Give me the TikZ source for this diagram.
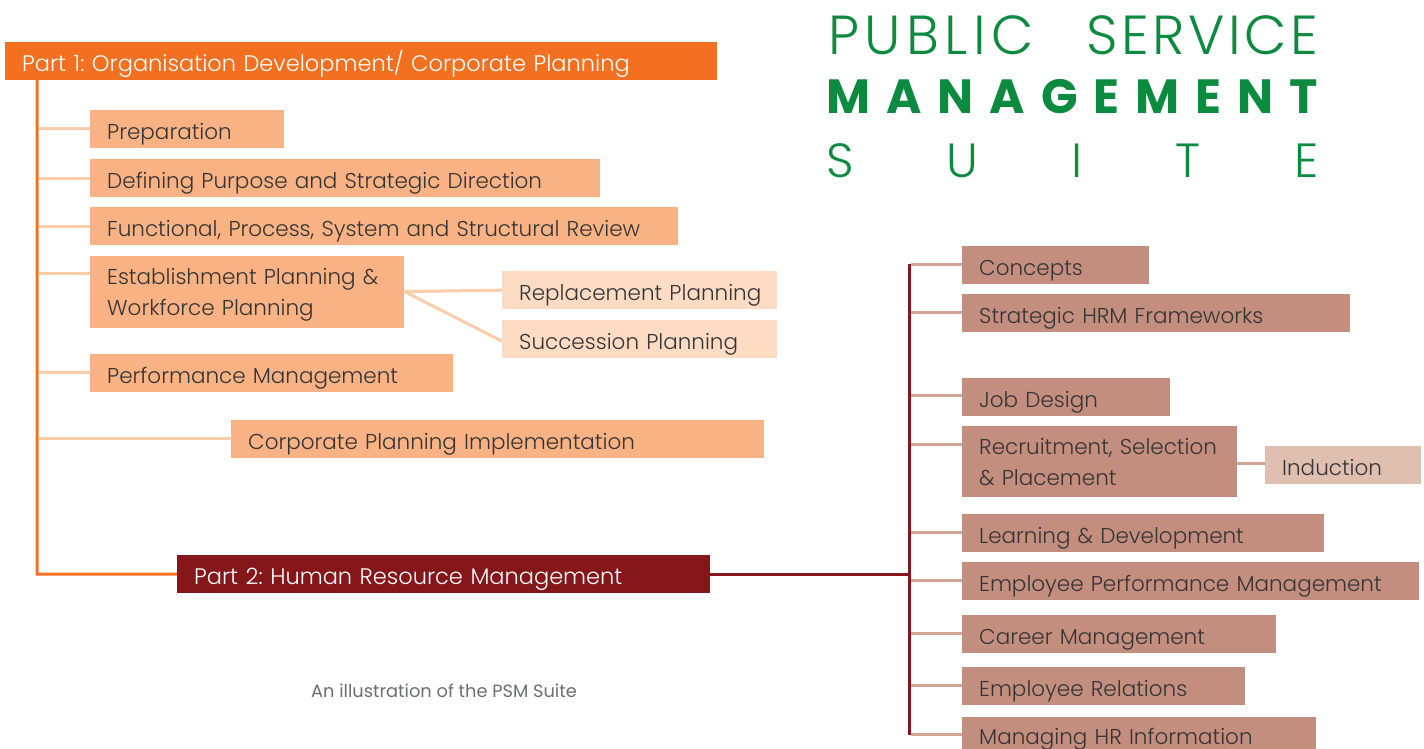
\documentclass[tikz,border=0pt]{standalone}
\usepackage{fontspec}
\setmainfont{Poppins}
\newfontfamily\lightfont{Poppins Light}
\usetikzlibrary{calc}

\definecolor{partone}{HTML}{F37021}
\definecolor{peach}{HTML}{F8B283}
\definecolor{peachlight}{HTML}{FDDCC3}
\definecolor{peachline}{HTML}{FBCDAA}
\definecolor{parttwo}{HTML}{85161A}
\definecolor{rose}{HTML}{C38E7E}
\definecolor{roselight}{HTML}{DFBFB0}
\definecolor{roseline}{HTML}{D2A596}
\definecolor{ink}{HTML}{363435}
\definecolor{suitegreen}{HTML}{0C8A3F}
\definecolor{caption}{HTML}{6D6E71}

\tikzset{
  % text width is the full box width; the left padding comes from \leftskip
  box/.style={anchor=north west, inner xsep=0pt, inner ysep=0pt,
    minimum height=38pt, text height=29.5pt, text depth=8.5pt,
    align=left, text=ink,
    execute at begin node={\leftskip=17pt\relax},
    font=\lightfont\fontsize{21.5}{31}\selectfont\frenchspacing},
  twoline/.style={text height=28pt, text depth=#1},
  partbox/.style={box, text=white,
    font=\lightfont\fontsize{22.5}{31}\selectfont\frenchspacing},
  odbox/.style={box, fill=peach},
  odsub/.style={box, fill=peachlight},
  hrbox/.style={box, fill=rose},
  hrsub/.style={box, fill=roselight},
  odtrunk/.style={draw=partone, line width=3pt},
  odlink/.style={draw=peachline, line width=3pt},
  hrtrunk/.style={draw=parttwo, line width=3pt},
  hrlink/.style={draw=roseline, line width=3pt},
  titletext/.style={anchor=base west, inner sep=0pt, text=suitegreen}
}

\begin{document}
\begin{tikzpicture}[x=1pt,y=-1pt]
\useasboundingbox (0,0) rectangle (1424,749);

% ---- title ----
\node[titletext, font=\lightfont\fontsize{55}{55}\selectfont] (tl1) at (828,55)
  {\hbox to 490pt{P\kern5.4pt U\kern5.4pt B\kern5.4pt L\kern5.4pt I\kern5.4pt C\hfill S\kern3.5pt E\kern3.5pt R\kern3.5pt V\kern3.5pt I\kern3.5pt C\kern3.5pt E}};
\node[titletext, font=\fontsize{48}{48}\bfseries\selectfont] (tl2) at (826,114)
  {\hbox to 492pt{M\hfill A\hfill N\hfill A\hfill G\hfill E\hfill M\hfill E\hfill N\hfill T}};
\node[titletext, font=\lightfont\fontsize{48}{48}\selectfont] (tl3) at (826,177)
  {\hbox to 492pt{S\hfill U\hfill I\hfill T\hfill E}};

% ---- part 1: organisation development ----
\node[partbox, fill=partone, text width=712pt] (p1) at (5,42)
  {Part 1: Organisation Development/ Corporate Planning};
\node[odbox, text width=194pt] (prep) at (90,110) {Preparation};
\node[odbox, text width=510pt] (defp) at (90,159) {Defining Purpose and Strategic Direction};
\node[odbox, text width=588pt] (func) at (90,207) {Functional, Process, System and Structural Review};
\node[odbox, text width=314pt, minimum height=72pt, twoline=44pt] (estab) at (90,256)
  {Establishment Planning \&\\Workforce Planning};
\node[odsub, text width=275pt] (repl) at (502,271) {Replacement Planning};
\node[odsub, text width=275pt] (succ) at (502,320) {Succession Planning};
\node[odbox, text width=363pt] (perf) at (90,354) {Performance Management};
\node[odbox, text width=533pt] (corp) at (231,420) {Corporate Planning Implementation};

% ---- part 2: human resource management ----
\node[partbox, fill=parttwo, text width=533pt] (p2) at (177,555)
  {Part 2: Human Resource Management};

\node[hrbox, text width=187pt] (conc) at (962,246) {Concepts};
\node[hrbox, text width=388pt] (shrm) at (962,294) {Strategic HRM Frameworks};
\node[hrbox, text width=208pt] (job) at (962,378) {Job Design};
\node[hrbox, text width=275pt, minimum height=71pt, twoline=43pt] (recr) at (962,426)
  {Recruitment, Selection\\\& Placement};
\node[hrsub, text width=156pt] (ind) at (1265,446) {Induction};
\node[hrbox, text width=362pt] (lnd) at (962,514) {Learning \& Development};
\node[hrbox, text width=457pt] (epm) at (962,562) {Employee Performance Management};
\node[hrbox, text width=314pt] (car) at (962,615) {Career Management};
\node[hrbox, text width=283pt] (er) at (962,667) {Employee Relations};
\node[hrbox, text width=354pt, text height=27pt, text depth=11pt] (mhr) at (962,717)
  {Managing HR Information};

\node[anchor=base, inner sep=0pt, text=caption, font=\fontsize{17.8}{18}\selectfont]
  (cap) at (444,697) {An illustration of the PSM Suite};

% ---- part 1 connectors ----
\coordinate (odtop) at (37,80);
\coordinate (odbot) at (37,574);
\foreach \n/\y in {prep/129, defp/178, func/226, estab/273, perf/372, corp/438}
  \draw[odlink] (38.5,\y) -- (\n.west |- 0,\y);
\draw[odtrunk] (odtop) -- (odbot) -- (p2.west);
\draw[odlink] (estab.east |- 0,291.5) -- (repl.west);
\draw[odlink] (estab.east |- 0,291.5) -- ($(succ.west)+(0,2)$);

% ---- part 2 connectors ----
\coordinate (hrtop) at (909,264);
\coordinate (hrbot) at (909,735);
\foreach \n/\y in {conc/264, shrm/312, job/395, recr/444, lnd/532, epm/580, car/633, er/685, mhr/734}
  \draw[hrlink] (910.5,\y) -- (\n.west |- 0,\y);
\draw[hrlink] (recr.east |- 0,463) -- (ind.west |- 0,463);
\draw[hrtrunk] (hrtop) -- (hrbot);
\draw[hrtrunk] (p2.east) -- (p2.east -| hrtop);
\end{tikzpicture}
\end{document}
